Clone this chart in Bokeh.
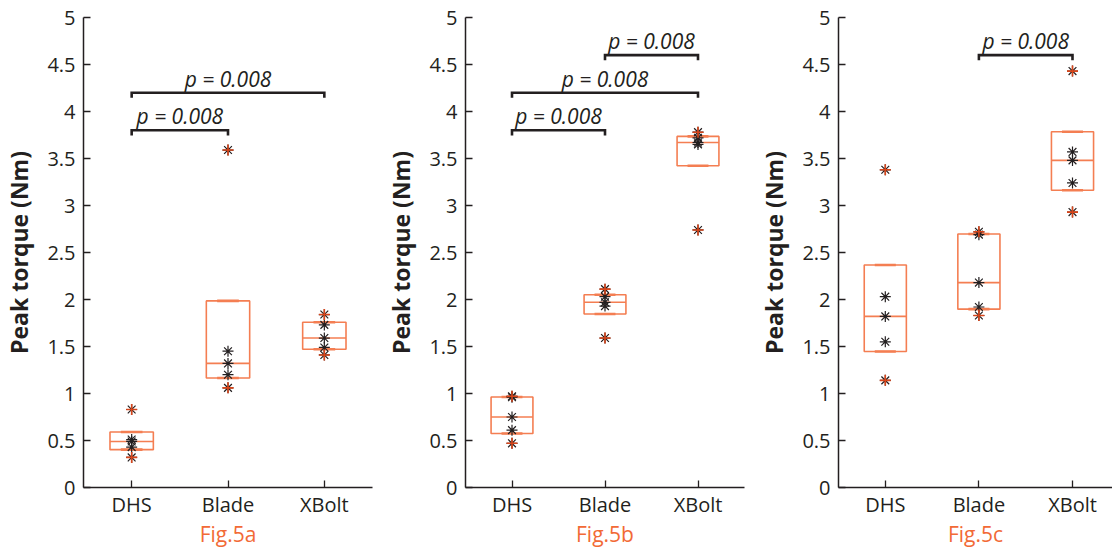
from bokeh.plotting import figure
from bokeh.layouts import row
from bokeh.models import FixedTicker
from bokeh.core.properties import value
from bokeh.embed import file_html
from bokeh.resources import INLINE
import numpy as np

# ---------------- data ----------------
categories = ["DHS", "Blade", "XBolt"]
category_pos = [1, 2, 3]
fig_labels = ["Fig.5a", "Fig.5b", "Fig.5c"]
y_label = "Peak torque (Nm)"
y_ticks = [0, 0.5, 1, 1.5, 2, 2.5, 3, 3.5, 4, 4.5, 5]
y_tick_labels = ["0", "0.5", "1", "1.5", "2", "2.5", "3", "3.5", "4", "4.5", "5"]
p_label = "p = 0.008"

# Fig.5a
fig5a_dhs = [0.83, 0.51, 0.49, 0.43, 0.32]
fig5a_blade = [3.59, 1.45, 1.32, 1.20, 1.06]
fig5a_xbolt = [1.84, 1.73, 1.59, 1.49, 1.41]
# Fig.5b
fig5b_dhs = [0.97, 0.96, 0.75, 0.61, 0.47]
fig5b_blade = [2.11, 2.03, 1.97, 1.93, 1.59]
fig5b_xbolt = [3.78, 3.72, 3.67, 3.65, 2.74]
# Fig.5c
fig5c_dhs = [3.38, 2.03, 1.82, 1.55, 1.14]
fig5c_blade = [2.72, 2.69, 2.18, 1.92, 1.83]
fig5c_xbolt = [4.43, 3.57, 3.48, 3.24, 2.93]

# significance brackets: (from category, to category, level)
fig5a_brackets = [(1, 2, 3.8), (1, 3, 4.2)]
fig5b_brackets = [(1, 2, 3.8), (1, 3, 4.2), (2, 3, 4.6)]
fig5c_brackets = [(2, 3, 4.6)]

# ---------------- style ----------------
FONT = "Open Sans"
TXT = "#231f20"
BOX = "#f47e52"
RED = "#d9451a"
HALF = 0.225
H = 550
TOP = 17
BOTTOM = 63


def make_panel(groups, brackets, fig_label, width, bl, br, x_end):
    p = figure(width=width, height=H, x_range=(0.5, x_end), y_range=(0, 5),
               output_backend="svg", toolbar_location=None,
               min_border_left=bl, min_border_right=br,
               min_border_top=TOP, min_border_bottom=BOTTOM)
    p.outline_line_color = None
    p.grid.visible = False
    p.background_fill_color = "white"
    p.border_fill_color = "white"

    for xpos, vals in zip(category_pos, groups):
        v = np.array(vals)
        q1, med, q3 = np.percentile(v, [25, 50, 75], method="hazen")
        p.quad(left=[xpos - HALF], right=[xpos + HALF], bottom=[q1], top=[q3],
               fill_color=None, line_color=BOX, line_width=1.6)
        p.segment(x0=[xpos - HALF], x1=[xpos + HALF], y0=[med], y1=[med],
                  line_color=BOX, line_width=1.6)
        p.segment(x0=[xpos - HALF / 2] * 2, x1=[xpos + HALF / 2] * 2,
                  y0=[q1, q3], y1=[q1, q3], line_color=BOX, line_width=2.6)
        p.scatter(x=[xpos] * len(v), y=v, marker="asterisk", size=11,
                  line_color=TXT, line_width=1.2)
        p.scatter(x=[xpos, xpos], y=[v.min(), v.max()], marker="cross", size=11,
                  line_color=RED, line_width=1.6)

    d = 0.055
    for a, b, lev in brackets:
        p.multi_line(xs=[[a, a, b, b]], ys=[[lev - d, lev, lev, lev - d]],
                     line_color=TXT, line_width=2.6, line_join="miter")
        p.text(x=[(a + b) / 2], y=[lev], text=[p_label], text_align="center",
               text_baseline="alphabetic", y_offset=-14,
               text_font=value(FONT), text_font_style="italic",
               text_font_size="21px", text_color=TXT)

    # y axis
    p.yaxis.ticker = FixedTicker(ticks=y_ticks)
    p.yaxis.major_label_overrides = dict(zip(y_ticks, y_tick_labels))
    p.yaxis.axis_label = y_label
    p.yaxis.axis_label_text_font = FONT
    p.yaxis.axis_label_text_font_style = "bold"
    p.yaxis.axis_label_text_font_size = "23px"
    p.yaxis.axis_label_text_color = TXT
    p.yaxis.axis_label_standoff = 9
    # x axis, with the panel caption as its label
    p.xaxis.ticker = FixedTicker(ticks=category_pos)
    p.xaxis.major_label_overrides = dict(zip(category_pos, categories))
    p.xaxis.axis_label = fig_label
    p.xaxis.axis_label_text_font = FONT
    p.xaxis.axis_label_text_font_style = "normal"
    p.xaxis.axis_label_text_font_size = "21px"
    p.xaxis.axis_label_text_color = "#f26a36"
    p.xaxis.axis_label_standoff = -1

    for ax in (p.xaxis, p.yaxis):
        ax.major_label_text_font = FONT
        ax.major_label_text_font_size = "20px"
        ax.major_label_text_color = TXT
        ax.axis_line_color = TXT
        ax.axis_line_width = 1.5
        ax.major_tick_line_color = TXT
        ax.major_tick_line_width = 1.3
        ax.major_tick_in = 7
        ax.major_tick_out = 0
        ax.minor_tick_line_color = None
    p.yaxis.major_label_standoff = 8
    p.xaxis.major_label_standoff = 3
    return p


p1 = make_panel([fig5a_dhs, fig5a_blade, fig5a_xbolt], fig5a_brackets, fig_labels[0],
                382, 78, 10, 3.5)
p2 = make_panel([fig5b_dhs, fig5b_blade, fig5b_xbolt], fig5b_brackets, fig_labels[1],
                372, 77, 10, 3.5)
p3 = make_panel([fig5c_dhs, fig5c_blade, fig5c_xbolt], fig5c_brackets, fig_labels[2],
                358, 84, 0, 0.5 + 274 / 93.6)

layout = row(p1, p2, p3)
open("out.html", "w").write(file_html(layout, INLINE))
